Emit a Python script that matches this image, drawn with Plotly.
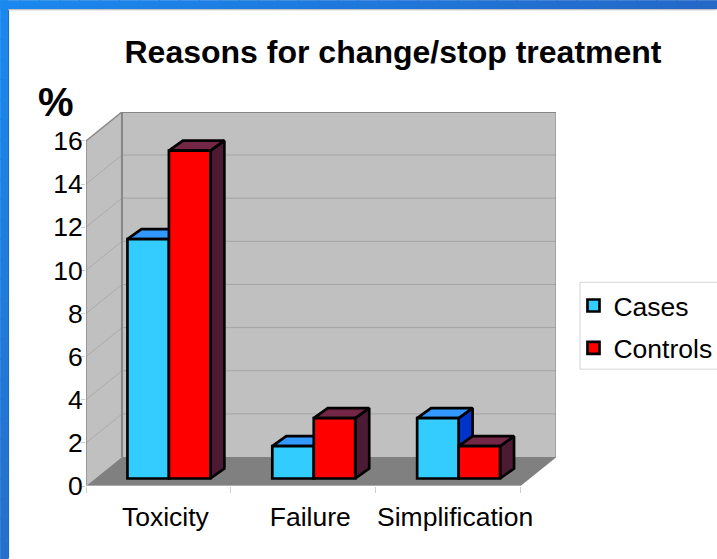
import plotly.graph_objects as go

categories = ["Toxicity", "Failure", "Simplification"]
cases = [11.1, 1.5, 2.8]
controls = [15.2, 2.8, 1.5]
y_ticks = [0, 2, 4, 6, 8, 10, 12, 14, 16]

# plot frame in pixels
W, H = 717, 559
L, R, T, B = 86, 556.5, 112, 486.5
CAT_PX = 145.0
VAL_PX = 21.6
# 3D projection
WALL_DX = 36 / CAT_PX
WALL_DV = 29 / VAL_PX
BAR_W = 41.5 / CAT_PX
BAR_SHIFT = 10.5 / CAT_PX
BAR_BASE = 7.5 / VAL_PX
BAR_DX = 14 / CAT_PX
BAR_DV = 10 / VAL_PX
EDGE = 2.7
X0 = -0.5
XF = X0 + len(categories)
VMAX = max(y_ticks)

fig = go.Figure()


def poly(xs, ys, fill, line=None, lw=2, z=0):
    fig.add_trace(go.Scatter(
        x=list(xs) + [xs[0]], y=list(ys) + [ys[0]], mode="lines", fill="toself",
        fillcolor=fill, line=dict(color=line or fill, width=lw if line else 0),
        hoverinfo="skip", showlegend=False, cliponaxis=False, zorder=z))


def path(xs, ys, color, lw, z=0):
    fig.add_trace(go.Scatter(x=xs, y=ys, mode="lines", line=dict(color=color, width=lw),
                             hoverinfo="skip", showlegend=False, cliponaxis=False, zorder=z))


BX0, BX1 = X0 + WALL_DX, XF + WALL_DX
poly([BX0, BX1, BX1, BX0], [WALL_DV, WALL_DV, VMAX + WALL_DV, VMAX + WALL_DV], "#C0C0C0")
poly([X0, BX0, BX0, X0], [0, WALL_DV, VMAX + WALL_DV, VMAX], "#C0C0C0")
poly([X0, XF, BX1, BX0], [0, 0, WALL_DV, WALL_DV], "#808080")

gx_back, gy_back, gx_side, gy_side = [], [], [], []
for v in y_ticks[1:-1]:
    gx_back += [BX0, BX1, None]
    gy_back += [v + WALL_DV, v + WALL_DV, None]
for v in y_ticks[1:-1]:
    gx_side += [X0, BX0, None]
    gy_side += [v, v + WALL_DV, None]
path(gx_back, gy_back, "#A4A4A4", 1)
path(gx_side, gy_side, "#ABABAB", 1)
path([BX0, BX0, BX1, BX1], [WALL_DV, VMAX + WALL_DV, VMAX + WALL_DV, WALL_DV], "#868686", 2)
path([X0, X0, BX0], [0, VMAX, VMAX + WALL_DV], "#8C8C8C", 1.5)
path([X0, XF], [0, 0], "#D8D8D8", 1)

series = [("Cases", cases, -1, "#33CCFF", "#3399FF", "#0033CC"),
          ("Controls", controls, 0, "#FF0000", "#732646", "#4D1A33")]
for k, (name, vals, side, front, top, right) in enumerate(series):
    xl = [i + BAR_SHIFT + side * BAR_W for i in range(len(categories))]
    for x, v in zip(xl, vals):
        xr = x + BAR_W
        t = BAR_BASE + v
        poly([xr, xr + BAR_DX, xr + BAR_DX, xr], [BAR_BASE, BAR_BASE + BAR_DV, t + BAR_DV, t],
             right, "#000000", EDGE, z=1 + 2 * k)
        poly([x, xr, xr + BAR_DX, x + BAR_DX], [t, t, t + BAR_DV, t + BAR_DV],
             top, "#000000", EDGE, z=1 + 2 * k)
    fig.add_trace(go.Bar(
        name=name, x=[a + BAR_W / 2 for a in xl], y=vals, base=BAR_BASE, width=BAR_W,
        marker=dict(color=front, line=dict(color="#000000", width=EDGE)),
        zorder=2 + 2 * k, legendgroup=name, cliponaxis=False))


def px(x):
    return (x - L) / (R - L)


def py(y):
    return (B - y) / (B - T)


shapes = []
TOP_A, TOP_B = (26, 136, 238), (36, 104, 200)
LEFT_B = (36, 112, 204)
N = 36
for i in range(N):
    f = i / (N - 1)
    c = [round(a + (b - a) * f) for a, b in zip(TOP_A, TOP_B)]
    shapes.append(dict(type="rect", xref="paper", yref="paper", layer="below", line_width=0,
                       x0=px(W * i // N), x1=px(W * (i + 1) // N + 1), y0=py(0), y1=py(9),
                       fillcolor=f"rgb({c[0]},{c[1]},{c[2]})"))
N = 28
for i in range(N):
    f = i / (N - 1)
    c = [round(a + (b - a) * f) for a, b in zip(TOP_A, LEFT_B)]
    shapes.append(dict(type="rect", xref="paper", yref="paper", layer="below", line_width=0,
                       x0=px(0), x1=px(8), y0=py(H * i // N), y1=py(H * (i + 1) // N + 1),
                       fillcolor=f"rgb({c[0]},{c[1]},{c[2]})"))
shapes.append(dict(type="rect", xref="paper", yref="paper", layer="below", line_width=0,
                   x0=px(8), x1=px(9), y0=py(9), y1=py(H), fillcolor="#1260B4"))
shapes.append(dict(type="rect", xref="paper", yref="paper", layer="below", line_width=0,
                   x0=px(8), x1=px(W), y0=py(9), y1=py(10), fillcolor="#B4B4B4"))
shapes.append(dict(type="rect", xref="paper", yref="paper", layer="below",
                   line=dict(color="#D4D4D4", width=1), fillcolor="#FFFFFF",
                   x0=px(580.5), x1=px(W + 2), y0=py(282.5), y1=py(369.5)))

FONT = "Liberation Sans"
fig.update_layout(
    width=W, height=H, autosize=False,
    margin=dict(l=L, r=W - R, t=T, b=H - B, pad=0, autoexpand=False),
    paper_bgcolor="#FFFFFF", plot_bgcolor="rgba(0,0,0,0)",
    barmode="overlay", shapes=shapes, showlegend=True,
    font=dict(family=FONT, size=26.5, color="#000000"),
    title=dict(text="<b>Reasons for change/stop treatment</b>", x=393 / W, xref="container",
               xanchor="center", y=1 - 52 / H, yref="container", yanchor="middle",
               font=dict(family=FONT, size=32, color="#000000")),
    annotations=[dict(text="<b>%</b>", xref="paper", yref="paper", x=px(56), y=py(102),
                      showarrow=False, xanchor="center", yanchor="middle",
                      font=dict(family=FONT, size=40, color="#000000"))],
    legend=dict(x=px(574), xanchor="left", y=py(282), yanchor="top", bgcolor="rgba(0,0,0,0)",
                borderwidth=0, tracegroupgap=5, itemclick=False, itemdoubleclick=False,
                font=dict(family=FONT, size=26.5, color="#000000")),
    xaxis=dict(range=[X0, X0 + (R - L) / CAT_PX], showgrid=False, zeroline=False, showline=False,
               tickmode="array", tickvals=[i + 0.048 for i in range(len(categories))],
               ticktext=categories, ticks="", ticklabelstandoff=12,
               minor=dict(tickmode="array", tickvals=[X0 + i for i in range(len(categories) + 1)],
                          ticks="outside", ticklen=6, tickcolor="#CFCFCF", tickwidth=1, showgrid=False)),
    yaxis=dict(range=[0, (B - T) / VAL_PX], showgrid=False, zeroline=False, showline=False,
               tickmode="array", tickvals=y_ticks, ticks="outside", ticklen=4, tickcolor="#CFCFCF",
               tickwidth=1, ticklabelstandoff=-7),
)

fig.write_html("out.html", post_script="document.body.style.margin='0';",
               config=dict(displayModeBar=False))
